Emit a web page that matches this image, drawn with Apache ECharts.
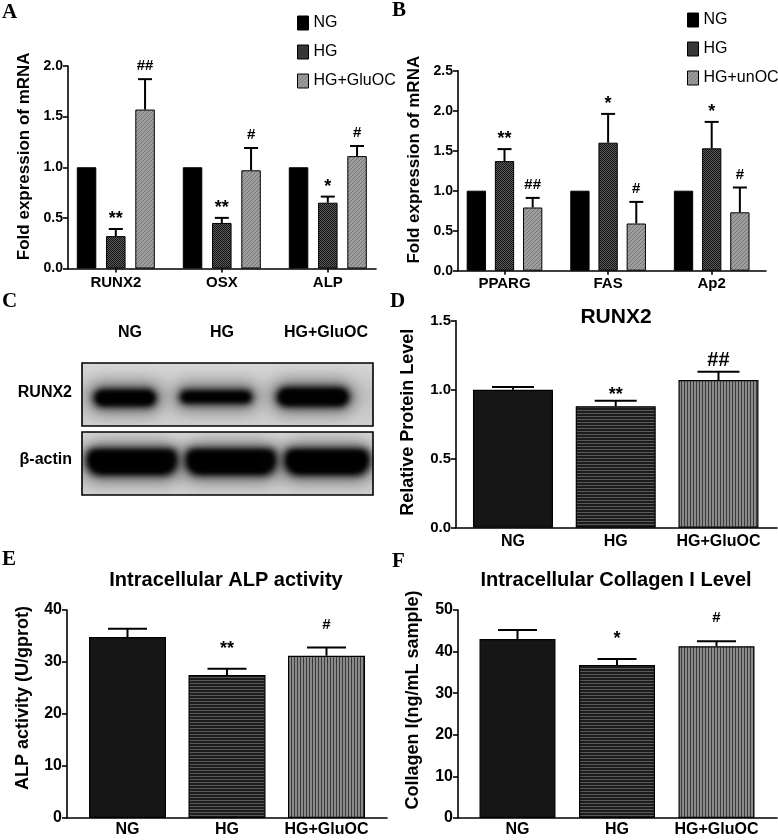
<!DOCTYPE html>
<html><head><meta charset="utf-8">
<script src="https://cdn.jsdelivr.net/npm/echarts@6/dist/echarts.min.js"></script>
<style>html,body{margin:0;padding:0;background:#fff}#c{width:778px;height:840px}</style>
</head><body><div id="c"></div>
<script>
// ---------------- DATA ----------------
// Panel A: osteogenic mRNA
const catsA = ['RUNX2', 'OSX', 'ALP'];
const groupsA = ['NG', 'HG', 'HG+GluOC'];
const ticksA = [0, 0.5, 1.0, 1.5, 2.0];
const meanA_NG = [1.00, 1.00, 1.00];
const meanA_HG = [0.32, 0.45, 0.65];
const errA_HG = [0.39, 0.50, 0.71];
const sigA_HG = ['**', '**', '*'];
const meanA_Glu = [1.57, 0.97, 1.11];
const errA_Glu = [1.87, 1.19, 1.21];
const sigA_Glu = ['##', '#', '#'];

// Panel B: adipogenic mRNA
const catsB = ['PPARG', 'FAS', 'Ap2'];
const groupsB = ['NG', 'HG', 'HG+unOC'];
const ticksB = [0, 0.5, 1.0, 1.5, 2.0, 2.5];
const meanB_NG = [1.00, 1.00, 1.00];
const meanB_HG = [1.37, 1.60, 1.53];
const errB_HG = [1.52, 1.96, 1.86];
const sigB_HG = ['**', '*', '*'];
const meanB_un = [0.79, 0.59, 0.73];
const errB_un = [0.91, 0.86, 1.04];
const sigB_un = ['##', '#', '#'];

// Panel C: western blot lanes
const lanesC = ['NG', 'HG', 'HG+GluOC'];
const rowsC = ['RUNX2', 'β-actin'];

// Panel D: RUNX2 protein
const catsD = ['NG', 'HG', 'HG+GluOC'];
const ticksD = [0, 0.5, 1.0, 1.5];
const meanD = [1.00, 0.88, 1.07];
const errD = [1.02, 0.92, 1.13];
const sigD = ['', '**', '##'];

// Panel E: ALP activity
const catsE = ['NG', 'HG', 'HG+GluOC'];
const ticksE = [0, 10, 20, 30, 40];
const meanE = [34.8, 27.5, 31.2];
const errE = [36.4, 28.7, 32.8];
const sigE = ['', '**', '#'];

// Panel F: Collagen I
const catsF = ['NG', 'HG', 'HG+GluOC'];
const ticksF = [0, 10, 20, 30, 40, 50];
const meanF = [43.0, 36.8, 41.3];
const errF = [45.2, 38.2, 42.5];
const sigF = ['', '*', '#'];

// ---------------- STYLE ----------------
const FF = 'Liberation Sans';
function pat(w, h, draw) {
  const c = document.createElement('canvas');
  c.width = w; c.height = h;
  draw(c.getContext('2d'));
  return { image: c, repeat: 'repeat' };
}
const hgDot = pat(2, 2, ctx => {
  ctx.fillStyle = '#121212'; ctx.fillRect(0, 0, 2, 2);
  ctx.fillStyle = '#5c5c5c'; ctx.fillRect(1, 0, 1, 1); ctx.fillRect(0, 1, 1, 1);
});
const gluHatch = pat(4, 4, ctx => {
  ctx.fillStyle = '#9e9e9e'; ctx.fillRect(0, 0, 4, 4);
  ctx.fillStyle = '#767676';
  for (let i = 0; i < 4; i++) ctx.fillRect(i, 3 - i, 1, 1);
});
const hLines = pat(1, 3, ctx => {
  ctx.fillStyle = '#1c1c1c'; ctx.fillRect(0, 0, 1, 3);
  ctx.fillStyle = '#5a5a5a'; ctx.fillRect(0, 2, 1, 1);
});
const vLines = pat(3, 1, ctx => {
  ctx.fillStyle = '#8a8a8a'; ctx.fillRect(0, 0, 3, 1);
  ctx.fillStyle = '#3a3a3a'; ctx.fillRect(0, 0, 1, 1);
});
const fillsSingle = ['#161616', hLines, vLines];

const grids = [
  { left: 68, top: 66, width: 308, height: 202.5 },        // 0 A outer
  { left: 62.8, top: 66, width: 318, height: 202.5 },      // 1 A inner
  { left: 458, top: 70.7, width: 308, height: 200 },       // 2 B outer
  { left: 452.7, top: 70.7, width: 310.8, height: 200 },   // 3 B inner
  { left: 456, top: 320.7, width: 321, height: 207 },      // 4 D outer
  { left: 461.6, top: 320.7, width: 308.25, height: 207 }, // 5 D inner
  { left: 67, top: 610, width: 320, height: 208 },         // 6 E outer
  { left: 77.75, top: 610, width: 298.5, height: 208 },    // 7 E inner
  { left: 458, top: 610, width: 319, height: 208 },        // 8 F outer
  { left: 467.75, top: 610, width: 298.5, height: 208 }    // 9 F inner
].map(g => Object.assign({ outerBoundsMode: 'none', containLabel: false }, g));

const axLine = { show: true, lineStyle: { color: '#000', width: 1.6 } };

function outerX(gi) {
  return { gridIndex: gi, type: 'value', min: 0, max: 1, axisLine: axLine,
    axisTick: { show: false }, axisLabel: { show: false }, splitLine: { show: false } };
}
function outerY(gi, ticks, dec, fs, name, nameFs, nameGap, shift) {
  return { gridIndex: gi, type: 'value', min: ticks[0], max: ticks[ticks.length - 1],
    interval: ticks[1] - ticks[0],
    axisLine: axLine,
    axisTick: { show: true, length: 5, lineStyle: { color: '#000', width: 1.6 } },
    axisLabel: { color: '#000', fontWeight: 'bold', fontSize: fs, fontFamily: FF, margin: 5,
      formatter: v => dec ? v.toFixed(1) : String(v) },
    splitLine: { show: false },
    name: name, nameLocation: 'middle', nameGap: nameGap,
    nameTextStyle: { color: '#000', fontWeight: 'bold', fontSize: nameFs, fontFamily: FF,
      padding: [0, 0, 0, shift] } };
}
function innerX(gi, cats, fs, margin, ticks) {
  return { gridIndex: gi, type: 'category', data: cats,
    axisLine: { show: false },
    axisTick: { show: ticks, alignWithLabel: true, length: 4, lineStyle: { color: '#000', width: 1.6 } },
    axisLabel: { color: '#000', fontWeight: 'bold', fontSize: fs, fontFamily: FF, margin: margin, interval: 0, hideOverlap: false },
    splitLine: { show: false } };
}
function innerY(gi, ticks) {
  return { gridIndex: gi, type: 'value', min: ticks[0], max: ticks[ticks.length - 1], show: false };
}

function errSeries(name, ai, means, errs, sigs, k, n, spacing, capW, o) {
  return {
    name: name, type: 'custom', xAxisIndex: ai, yAxisIndex: ai, z: 10, silent: true,
    data: means.map((m, i) => [i, m, errs[i]]),
    renderItem: function (params, api) {
      const i = api.value(0), m = api.value(1), e = api.value(2);
      const off = (k - (n - 1) / 2) * spacing;
      const pb = api.coord([i, m]), pt = api.coord([i, e]);
      const x = pb[0] + off;
      const s = sigs[params.dataIndex] || '';
      const star = s.indexOf('*') >= 0;
      const ch = [
        { type: 'line', shape: { x1: x, y1: pb[1], x2: x, y2: pt[1] }, style: { stroke: '#000', lineWidth: 2 } },
        { type: 'line', shape: { x1: x - capW / 2, y1: pt[1], x2: x + capW / 2, y2: pt[1] }, style: { stroke: '#000', lineWidth: 2 } }
      ];
      if (s) ch.push({ type: 'text', x: x, y: pt[1] - (star ? o.starGap : o.hashGap),
        style: { text: s, align: 'center', verticalAlign: 'middle', fontSize: star ? o.starSize : o.hashSize,
          fontWeight: 'bold', fontFamily: FF, fill: '#000' } });
      return { type: 'group', children: ch };
    }
  };
}

function groupBar(name, ai, data, color, bw, gap) {
  return { name: name, type: 'bar', xAxisIndex: ai, yAxisIndex: ai, data: data,
    barWidth: bw, barGap: gap, silent: true,
    itemStyle: { color: color, borderColor: '#000', borderWidth: 1 } };
}
function singleBar(name, ai, data, bw) {
  return { name: name, type: 'bar', xAxisIndex: ai, yAxisIndex: ai, silent: true, barWidth: bw,
    data: data.map((v, i) => ({ value: v, itemStyle: { color: fillsSingle[i] } })),
    itemStyle: { borderColor: '#000', borderWidth: 1.2 } };
}

const oAB = { starGap: 10, hashGap: 13, starSize: 18, hashSize: 15 };
const oD = { starGap: 6, hashGap: 11, starSize: 18, hashSize: 20 };
const oEF = { starGap: 20, hashGap: 23, starSize: 18, hashSize: 15 };

const series = [
  groupBar(groupsA[0], 1, meanA_NG, '#000', 19.5, '50%'),
  groupBar(groupsA[1], 1, meanA_HG, hgDot, 19.5, '50%'),
  groupBar(groupsA[2], 1, meanA_Glu, gluHatch, 19.5, '50%'),
  errSeries('errA1', 1, meanA_HG, errA_HG, sigA_HG, 1, 3, 29.25, 14, oAB),
  errSeries('errA2', 1, meanA_Glu, errA_Glu, sigA_Glu, 2, 3, 29.25, 14, oAB),

  groupBar(groupsB[0], 3, meanB_NG, '#000', 19.3, '46%'),
  groupBar(groupsB[1], 3, meanB_HG, hgDot, 19.3, '46%'),
  groupBar(groupsB[2], 3, meanB_un, gluHatch, 19.3, '46%'),
  errSeries('errB1', 3, meanB_HG, errB_HG, sigB_HG, 1, 3, 28.18, 14, oAB),
  errSeries('errB2', 3, meanB_un, errB_un, sigB_un, 2, 3, 28.18, 14, oAB),

  singleBar('RUNX2 protein', 5, meanD, 80),
  errSeries('errD', 5, meanD, errD, sigD, 0, 1, 0, 42, oD),

  singleBar('ALP activity', 7, meanE, 77),
  errSeries('errE', 7, meanE, errE, sigE, 0, 1, 0, 39, oEF),

  singleBar('Collagen I', 9, meanF, 76),
  errSeries('errF', 9, meanF, errF, sigF, 0, 1, 0, 39, oEF)
];

// ---------------- PANEL C (blot image) + panel letters ----------------
const graphic = [];
function letter(t, x, y) {
  graphic.push({ type: 'text', x: x, y: y, silent: true,
    style: { text: t, fontFamily: 'Liberation Serif', fontWeight: 'bold', fontSize: 21, fill: '#000', verticalAlign: 'top' } });
}

function blotBox(y) {
  graphic.push({ type: 'rect', silent: true, shape: { x: 82, y: y, width: 291, height: 63 },
    style: { fill: { type: 'linear', x: 0, y: 0, x2: 0, y2: 1,
      colorStops: [{ offset: 0, color: '#d6d6d6' }, { offset: 0.5, color: '#c2c2c2' }, { offset: 1, color: '#d0d0d0' }] } } });
}
const OFF = 3000;
function soft(cx, cy, w, h, r, blur, color) {
  graphic.push({ type: 'rect', silent: true,
    shape: { x: cx - w / 2 - OFF, y: cy - h / 2, width: w, height: h, r: r },
    style: { fill: '#000', shadowBlur: blur, shadowColor: color, shadowOffsetX: OFF, shadowOffsetY: 0 } });
}
function band(cx, cy, w, h, r) {
  soft(cx, cy, w + 10, h + 12, (h + 12) / 2, 16, 'rgba(40,40,40,0.55)');
  soft(cx, cy, w, h, r, 7, 'rgba(0,0,0,1)');
  soft(cx, cy, w - 8, h - 6, r, 4, 'rgba(0,0,0,1)');
}
blotBox(363);
band(125, 398, 64, 18, 9);
band(216, 397, 74, 14, 7);
band(313, 397, 74, 20, 10);
blotBox(432);
band(132, 462, 92, 27, [8, 8, 14, 14]);
band(231, 462, 92, 27, [8, 8, 14, 14]);
band(327, 462, 86, 27, [8, 8, 14, 14]);
// white masks outside the boxes to keep blur inside
graphic.push({ type: 'rect', silent: true, shape: { x: 0, y: 345, width: 81.2, height: 170 }, style: { fill: '#fff' } });
graphic.push({ type: 'rect', silent: true, shape: { x: 373.8, y: 345, width: 22, height: 170 }, style: { fill: '#fff' } });
graphic.push({ type: 'rect', silent: true, shape: { x: 82, y: 426.8, width: 291, height: 4.4 }, style: { fill: '#fff' } });
graphic.push({ type: 'rect', silent: true, shape: { x: 82, y: 495.8, width: 291, height: 18 }, style: { fill: '#fff' } });
graphic.push({ type: 'rect', silent: true, shape: { x: 82, y: 345, width: 291, height: 17.2 }, style: { fill: '#fff' } });
[363, 432].forEach(y => graphic.push({ type: 'rect', silent: true, shape: { x: 82, y: y, width: 291, height: 63 },
  style: { fill: 'none', stroke: '#000', lineWidth: 1.6 } }));

letter('A', 2, 2); letter('B', 392, 0); letter('C', 2, 291);
letter('D', 390, 291); letter('E', 2, 549); letter('F', 392, 551);

const laneX = [130, 222, 326];
lanesC.forEach((t, i) => graphic.push({ type: 'text', silent: true, x: laneX[i], y: 333,
  style: { text: t, align: 'center', verticalAlign: 'middle', fontFamily: FF, fontWeight: 'bold', fontSize: 16, fill: '#000' } }));
const rowY = [393, 460];
rowsC.forEach((t, i) => graphic.push({ type: 'text', silent: true, x: 72, y: rowY[i],
  style: { text: t, align: 'right', verticalAlign: 'middle', fontFamily: FF, fontWeight: 'bold', fontSize: 16, fill: '#000' } }));

const titleStyle = fs => ({ fontSize: fs, fontWeight: 'bold', fontFamily: FF, color: '#000' });
const legendBase = { orient: 'vertical', itemWidth: 11, itemHeight: 14, itemGap: 13, icon: 'rect', padding: 0,
  selectedMode: false, textStyle: { fontSize: 16, fontFamily: FF, color: '#000' },
  itemStyle: { borderColor: '#000', borderWidth: 1 } };

const option = {
  animation: false,
  backgroundColor: '#fff',
  title: [
    { text: 'RUNX2', left: 616, top: 307, textAlign: 'center', padding: 0, textStyle: titleStyle(21) },
    { text: 'Intracellular ALP activity', left: 226, top: 570, textAlign: 'center', padding: 0, textStyle: titleStyle(20) },
    { text: 'Intracellular Collagen I Level', left: 616, top: 570, textAlign: 'center', padding: 0, textStyle: titleStyle(20) }
  ],
  legend: [
    Object.assign({}, legendBase, { data: groupsA, left: 297, top: 15 }),
    Object.assign({}, legendBase, { data: groupsB, left: 687, top: 12 })
  ],
  grid: grids,
  xAxis: [
    outerX(0), innerX(1, catsA, 15, 7, true),
    outerX(2), innerX(3, catsB, 15, 6, true),
    outerX(4), innerX(5, catsD, 16, 6, false),
    outerX(6), innerX(7, catsE, 16, 3.5, false),
    outerX(8), innerX(9, catsF, 16, 3.5, false)
  ],
  yAxis: [
    outerY(0, ticksA, true, 14, 'Fold expression of mRNA', 17, 35.5, 22), innerY(1, ticksA),
    outerY(2, ticksB, true, 14, 'Fold expression of mRNA', 17, 35.5, 22), innerY(3, ticksB),
    outerY(4, ticksD, true, 15, 'Relative Protein Level', 18, 39, 4), innerY(5, ticksD),
    outerY(6, ticksE, false, 16, 'ALP activity (U/gprot)', 18, 35, 32), innerY(7, ticksE),
    outerY(8, ticksF, false, 16, 'Collagen I(ng/mL sample)', 18, 36, 28), innerY(9, ticksF)
  ],
  series: series,
  graphic: graphic
};

const chart = echarts.init(document.getElementById('c'), null, { renderer: 'canvas' });
chart.setOption(option);
</script>
</body></html>
